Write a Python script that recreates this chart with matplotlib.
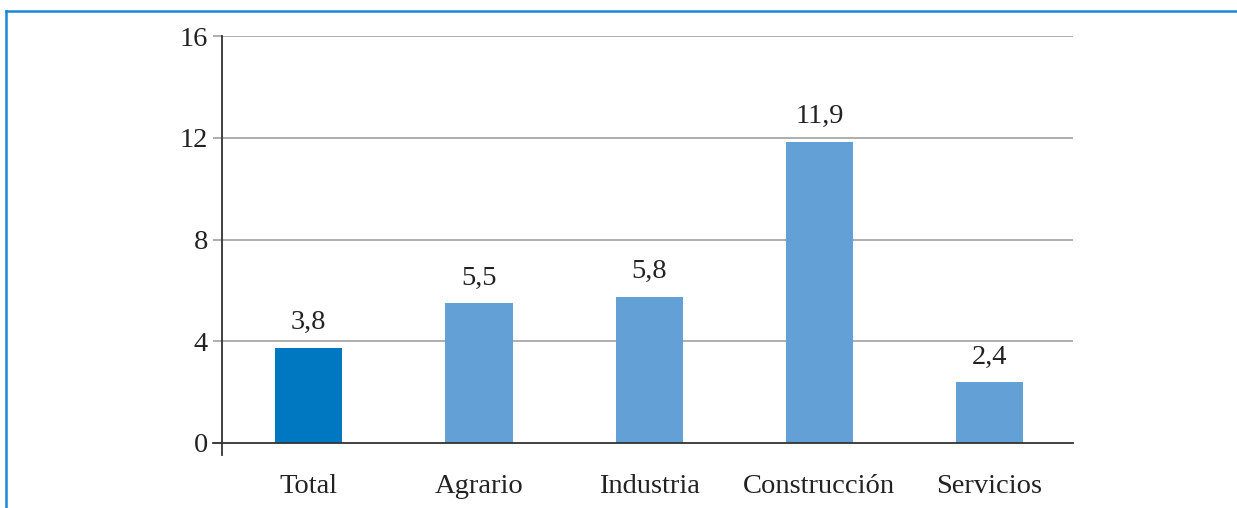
import matplotlib
matplotlib.use("Agg")
import matplotlib.pyplot as plt
from matplotlib.lines import Line2D

categories = ["Total", "Agrario", "Industria", "Construcción", "Servicios"]
values = [3.75, 5.5, 5.75, 11.85, 2.4]
value_labels = ["3,8", "5,5", "5,8", "11,9", "2,4"]
yticks = [0, 4, 8, 12, 16]
colors = ["#0077C1", "#63A0D6", "#63A0D6", "#63A0D6", "#63A0D6"]

plt.rcParams['font.family'] = ['Liberation Serif', 'DejaVu Serif']

fig = plt.figure(figsize=(12.37, 5.08), dpi=100)
ax = fig.add_axes([222/1237, 65/508, (1073-222)/1237, (443-36)/508])

x = list(range(len(categories)))
bars = ax.bar(x, values, width=0.395, color=colors, zorder=3)
ax.set_xlim(-0.51, len(categories) - 0.51)
ax.set_ylim(0, 16)
ax.set_yticks(yticks)
ax.set_yticklabels([str(t) for t in yticks], fontsize=20.5, color="#222222")
ax.set_xticks(x)
ax.set_xticklabels(categories, fontsize=20.5, color="#222222")
ax.tick_params(axis='x', length=0, pad=22)
ax.tick_params(axis='y', length=6.5, width=1.3, color="#A8A8A8", pad=3.5)

for t in yticks[1:]:
    ax.axhline(t, color="#A8A8A8", lw=1.3, zorder=1)
for s in ax.spines.values():
    s.set_visible(False)
ax.axhline(0, xmin=-0.011, xmax=1, color="#333333", lw=1.3, clip_on=False, zorder=4)
ax.axvline(-0.51, ymin=-0.03, ymax=1, color="#333333", lw=1.3, clip_on=False, zorder=4)

for b, lab in zip(bars, value_labels):
    ax.annotate(lab, (b.get_x() + b.get_width()/2, b.get_height()),
                xytext=(0, 9), textcoords="offset points",
                ha="center", va="bottom", fontsize=20.5, color="#222222")

fig.add_artist(Line2D([6/1237, 6/1237], [0, 1 - 10.5/508], transform=fig.transFigure,
                      color="#1B87D9", lw=1.8))
fig.add_artist(Line2D([6/1237, 1], [1 - 10.5/508, 1 - 10.5/508], transform=fig.transFigure,
                      color="#1B87D9", lw=1.8))

fig.savefig("out.png", dpi=100)
